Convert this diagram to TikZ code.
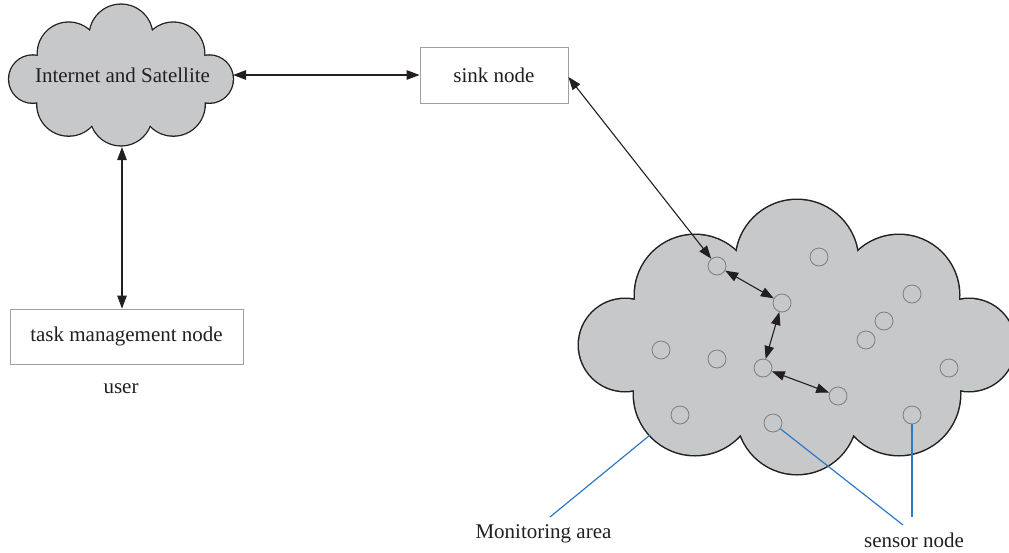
\documentclass[tikz,border=0pt]{standalone}
\usepackage{fontspec}
\setmainfont{Liberation Serif}
\usetikzlibrary{arrows.meta}

\definecolor{cloudfill}{RGB}{199,200,202}
\definecolor{inkc}{RGB}{35,31,32}
\definecolor{boxline}{RGB}{160,160,160}
\definecolor{sensorline}{RGB}{125,125,125}
\definecolor{leadercol}{RGB}{46,120,196}

% A cloud made of eight overlapping lobes: the lobes are stroked first,
% then filled, so only the outer half of the outline stays visible.
\newcommand\drawcloud[3]{%
  \begin{scope}[shift={#1}, scale=#2]
    \foreach \cx/\cy/\r in {-172/8/46, -102/-42/60, 0/-76/61, 102/-42/60,
                            172/8/46, 102/57/61, 0/77/60, -102/57/61}
      \draw[draw=inkc, line width=#3] (\cx,\cy) circle (\r);
    \foreach \cx/\cy/\r in {-172/8/46, -102/-42/60, 0/-76/61, 102/-42/60,
                            172/8/46, 102/57/61, 0/77/60, -102/57/61}
      \fill[cloudfill] (\cx,\cy) circle (\r);
    \fill[cloudfill] (-162,-37) -- (-60,-85) -- (60,-85) -- (161,-37)
      -- (161,53) -- (56,98) -- (-56,98) -- (-161,53) -- cycle;
  \end{scope}}

\begin{document}
\begin{tikzpicture}[x=1pt, y=-1pt,
  txt/.style={font=\fontsize{21}{25}\selectfont, text=inkc, inner sep=0pt},
  box/.style={txt, draw=boxline, line width=0.8pt, fill=white},
  sensor/.style={circle, draw=sensorline, line width=0.8pt,
                 minimum size=18pt, inner sep=0pt},
  link/.style={draw=inkc, line width=1.1pt,
               arrows={Triangle[length=13pt,width=9.5pt]-Triangle[length=13pt,width=9.5pt]}},
  leaderline/.style={draw=leadercol, line width=1.2pt}]

\useasboundingbox (0,0) rectangle (1009,552);

% clouds
\drawcloud{(121,75)}{0.513}{2.6pt}
\drawcloud{(797,337)}{1}{3pt}

% upper left: network side
\node[txt, anchor=base] (inet) at (122.5,82) {Internet and Satellite};
\coordinate (inetE) at (233,75);
\coordinate (inetS) at (122,147);

\node[box, minimum width=148pt, minimum height=56pt] (sink) at (494,75) {sink node};
\node[box, minimum width=233pt, minimum height=55pt] (task) at (126.5,336.5) {task management node};
\node[txt, anchor=base] (user) at (121,393) {user};

% sensor nodes in the monitoring area
\foreach \i/\x/\y in {1/717/266, 2/819/257, 3/782/303, 4/912/294, 5/884/321,
                      6/866/340, 7/661/350, 8/717/359, 9/763/368, 10/949/368,
                      11/838/396, 12/680/415, 13/773/423, 14/912/415}
  \node[sensor] (s\i) at (\x,\y) {};

% links
\draw[link] (inetE) -- (sink.west);
\draw[link] (inetS) -- (inetS |- task.north);
\draw[link] ([yshift=-2pt]sink.east) -- (s1);
\draw[link] (s1) -- (s3);
\draw[link] (s3) -- (s9);
\draw[link] (s9) -- (s11);

% callouts
\coordinate (monA) at (650,435);
\coordinate (monB) at (550,517);
\draw[leaderline] (monA) -- (monB);
\node[txt, anchor=base] (mon) at (543.5,538) {Monitoring area};

\coordinate (snA) at (903,525);
\coordinate (snB) at (912,517);
\draw[leaderline] (s13) -- (snA);
\draw[leaderline] (s14) -- (snB);
\node[txt, anchor=base] (sn) at (914,547) {sensor node};

\end{tikzpicture}
\end{document}
